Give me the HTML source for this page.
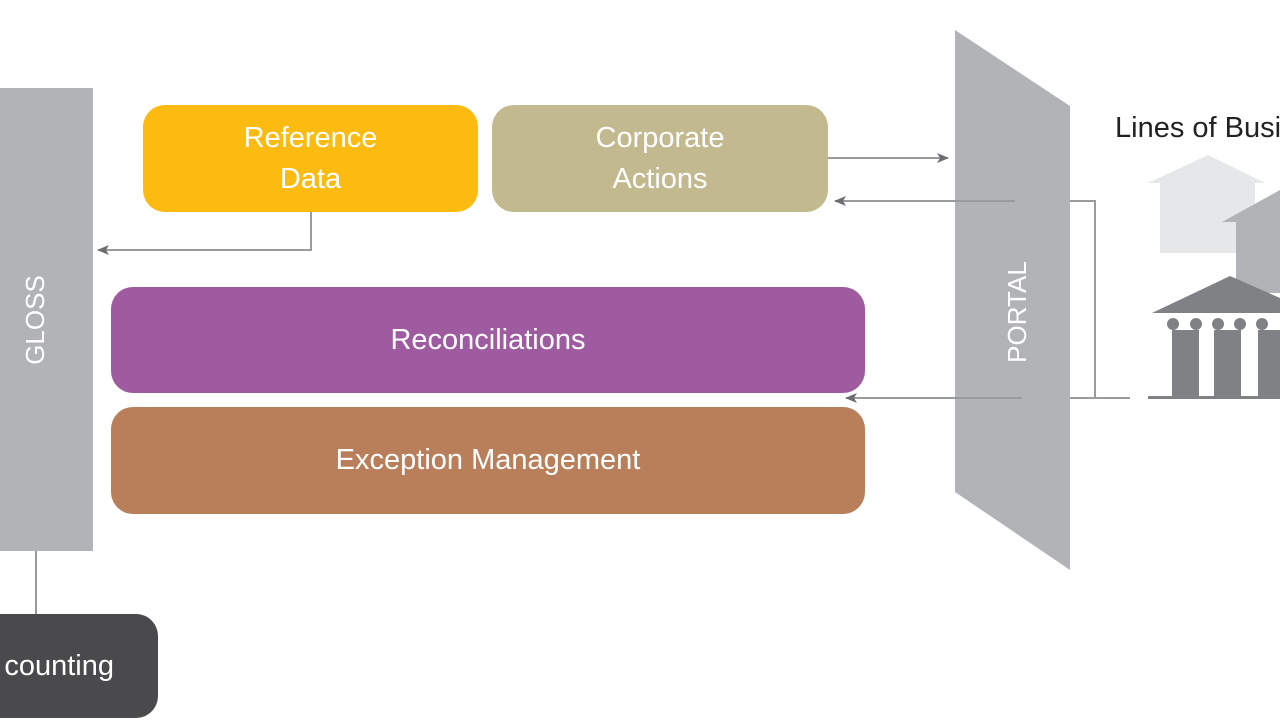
<!DOCTYPE html>
<html><head><meta charset="utf-8"><style>
body{margin:0;width:1280px;height:720px;background:#fff;position:relative;overflow:hidden;font-family:"Liberation Sans",sans-serif}
.b{position:absolute;border-radius:22px;color:#fff;display:flex;align-items:center;justify-content:center;text-align:center;font-size:29px;line-height:41px}
</style></head><body>
<svg width="1280" height="720" style="position:absolute;left:0;top:0">
<defs><marker id="a" markerWidth="12" markerHeight="10" refX="11" refY="5" orient="auto" markerUnits="userSpaceOnUse"><path d="M0,0 L12,5 L0,10 L3,5z" fill="#6d6e71"/></marker></defs>
<rect x="0" y="88" width="93" height="463" fill="#b1b3b6"/>
<line x1="36" y1="551" x2="36" y2="614" stroke="#999" stroke-width="2"/>
<polygon points="955,30 1070,106 1070,570 955,492" fill="#b1b3b6"/>
<g stroke="#9a9b9e" stroke-width="2" fill="none">
<polyline points="311,212 311,250 98,250" marker-end="url(#a)"/>
<line x1="828" y1="158" x2="948" y2="158" marker-end="url(#a)"/>
<line x1="1015" y1="201" x2="835" y2="201" marker-end="url(#a)"/>
<line x1="1022" y1="398" x2="846" y2="398" marker-end="url(#a)"/>
<polyline points="1070,201 1095,201 1095,398 1070,398 1130,398"/>
</g>
<polygon points="1148,183 1208,155 1265,183 1255,183 1255,253 1160,253 1160,183" fill="#e6e7e8"/>
<polygon points="1222,222 1280,190 1280,293 1236,293 1236,222" fill="#b1b3b6"/>
<polygon points="1152,313 1230,276 1280,298 1280,313" fill="#808184"/>
<g fill="#808184">
<circle cx="1173" cy="324" r="6"/><circle cx="1196" cy="324" r="6"/><circle cx="1218" cy="324" r="6"/><circle cx="1240" cy="324" r="6"/><circle cx="1262" cy="324" r="6"/>
<rect x="1172" y="330" width="27" height="66"/><rect x="1214" y="330" width="27" height="66"/><rect x="1258" y="330" width="22" height="66"/>
<rect x="1148" y="396" width="132" height="3"/>
</g>
<text x="1115" y="137" font-size="29" fill="#222" font-family="Liberation Sans">Lines of Business</text>
<text transform="translate(44,320) rotate(-90)" text-anchor="middle" font-size="26" fill="#fff" font-family="Liberation Sans">GLOSS</text>
<text transform="translate(1026,312) rotate(-90)" text-anchor="middle" font-size="26" fill="#fff" font-family="Liberation Sans">PORTAL</text>
</svg>
<div class="b" style="left:143px;top:105px;width:335px;height:107px;background:#fbbb10">Reference<br>Data</div>
<div class="b" style="left:492px;top:105px;width:336px;height:107px;background:#c3b98f">Corporate<br>Actions</div>
<div class="b" style="left:111px;top:287px;width:754px;height:106px;background:#9e5ba0">Reconciliations</div>
<div class="b" style="left:111px;top:407px;width:754px;height:107px;background:#b97f5a">Exception Management</div>
<div class="b" style="left:-60px;top:614px;width:218px;height:104px;background:#4a4a4c;justify-content:flex-end;padding-right:44px;box-sizing:border-box">counting</div>
</body></html>
